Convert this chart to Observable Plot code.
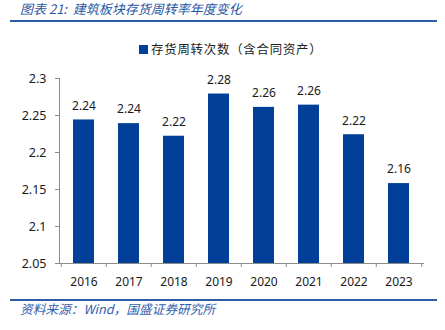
<!DOCTYPE html>
<html>
<head>
<meta charset="utf-8">
<script src="https://cdn.jsdelivr.net/npm/d3@7"></script>
<script src="https://cdn.jsdelivr.net/npm/@observablehq/plot@0.6"></script>
<style>
  html, body { margin: 0; padding: 0; background: #fff; }
  #page { position: relative; width: 445px; height: 330px; overflow: hidden; font-family: "Noto Sans", "Noto Sans CJK SC", sans-serif; }
  #title { position: absolute; left: 20px; top: 1px; font-family: "Noto Sans CJK SC", sans-serif; font-style: italic; font-size: 13px; color: #2b55a3; white-space: pre; line-height: 16px; }
  .rule { position: absolute; left: 10px; width: 427px; height: 2px; background: #2e5ba8; }
  #legend { position: absolute; left: 139px; top: 40px; display: flex; align-items: center; font-family: "Noto Sans CJK SC", sans-serif; font-size: 12.4px; letter-spacing: 0.8px; color: #222; line-height: 18px; }
  #legend .sw { width: 9px; height: 9px; background: #023f99; margin-right: 3px; }
  #chart { position: absolute; left: 0; top: 58px; }
  #source { position: absolute; left: 20px; top: 300px; font-family: "Noto Sans CJK SC", sans-serif; font-style: italic; font-size: 12.7px; color: #3360ad; white-space: pre; line-height: 17px; }
</style>
</head>
<body>
<div id="page">
  <div id="title">图表 21:  建筑板块存货周转率年度变化</div>
  <div class="rule" style="top:20px"></div>
  <div id="legend"><div class="sw"></div><span>存货周转次数（含合同资产）</span></div>
  <div id="chart"></div>
  <div class="rule" style="top:298.5px"></div>
  <div id="source">资料来源：Wind，国盛证券研究所</div>
</div>
<script>
const years = ["2016", "2017", "2018", "2019", "2020", "2021", "2022", "2023"];
const turnover = [2.244, 2.239, 2.222, 2.279, 2.261, 2.264, 2.224, 2.158];
const valueLabels = ["2.24", "2.24", "2.22", "2.28", "2.26", "2.26", "2.22", "2.16"];
const yTicks = [2.05, 2.1, 2.15, 2.2, 2.25, 2.3];

const data = years.map((year, i) => ({ year, value: turnover[i], label: valueLabels[i] }));

const width = 445, marginLeft = 59, marginRight = 22;
const step = (width - marginLeft - marginRight) / years.length;
const axisColor = "#8c8c8c";

const chart = Plot.plot({
  width,
  height: 236,
  marginTop: 20,
  marginBottom: 31,
  marginLeft,
  marginRight,
  style: { fontFamily: "'Noto Sans', sans-serif", fontSize: "12px", color: "#1a1a1a", background: "transparent", overflow: "visible" },
  x: { domain: years, paddingInner: 0.53, paddingOuter: 0.265, axis: null },
  y: { domain: [yTicks[0], yTicks[yTicks.length - 1]], axis: null },
  marks: [
    Plot.barY(data, { x: "year", y1: yTicks[0], y2: "value", fill: "#023f99" }),
    Plot.text(data, { x: "year", y: "value", text: "label", dy: -14, fontSize: 12, fill: "#1a1a1a" }),
    Plot.frame({ anchor: "left", stroke: axisColor }),
    Plot.frame({ anchor: "bottom", stroke: axisColor }),
    Plot.axisY({ ticks: yTicks, tickSize: 4, tickPadding: 9, tickFormat: d3.format("~g"), stroke: axisColor, fill: "#1a1a1a", fontSize: 12.5, label: null }),
    Plot.axisX({ tickSize: 4, tickFormat: () => "", stroke: axisColor, dx: -step / 2, label: null }),
    Plot.axisX({ ticks: [years[years.length - 1]], tickSize: 4, tickFormat: () => "", stroke: axisColor, dx: step / 2, label: null }),
    Plot.axisX({ tickSize: 0, tickPadding: 14, fill: "#1a1a1a", fontSize: 12, label: null })
  ]
});
document.getElementById("chart").appendChild(chart);
</script>
</body>
</html>
